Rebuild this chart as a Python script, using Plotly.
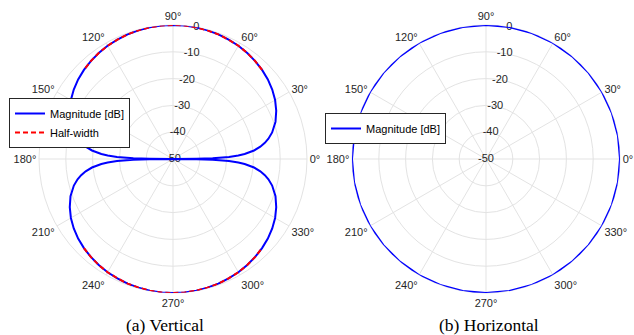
import plotly.graph_objects as go

# Angles (degrees) at which the vertical pattern is sampled
vertical_theta = [0, 0.5, 1, 2, 3, 4, 6, 8, 10, 12, 15, 20, 25, 30, 35, 40, 45, 50, 55, 60, 65, 70, 75, 80, 85, 90,
                  95, 100, 105, 110, 115, 120, 125, 130, 135, 140, 145, 150, 155, 160, 165, 168, 170, 172, 174, 176, 177, 178, 179, 179.5, 180,
                  180.5, 181, 182, 183, 184, 186, 188, 190, 192, 195, 200, 205, 210, 215, 220, 225, 230, 235, 240, 245, 250, 255, 260, 265, 270,
                  275, 280, 285, 290, 295, 300, 305, 310, 315, 320, 325, 330, 335, 340, 345, 348, 350, 352, 354, 356, 357, 358, 359, 359.5, 360]

# Magnitude [dB] of the vertical pattern
vertical_db = [-50, -41.2, -35.2, -29.1, -25.6, -23.2, -19.6, -17.1, -15.2, -13.6, -11.7, -9.3, -7.5, -6.0, -4.8, -3.8, -3.0, -2.3, -1.7, -1.2, -0.9, -0.5, -0.3, -0.1, 0.0, 0.0,
               0.0, -0.1, -0.3, -0.5, -0.9, -1.2, -1.7, -2.3, -3.0, -3.8, -4.8, -6.0, -7.5, -9.3, -11.7, -13.6, -15.2, -17.1, -19.6, -23.2, -25.6, -29.1, -35.2, -41.2, -50,
               -41.2, -35.2, -29.1, -25.6, -23.2, -19.6, -17.1, -15.2, -13.6, -11.7, -9.3, -7.5, -6.0, -4.8, -3.8, -3.0, -2.3, -1.7, -1.2, -0.9, -0.5, -0.3, -0.1, 0.0, 0.0,
               0.0, -0.1, -0.3, -0.5, -0.9, -1.2, -1.7, -2.3, -3.0, -3.8, -4.8, -6.0, -7.5, -9.3, -11.7, -13.6, -15.2, -17.1, -19.6, -23.2, -25.6, -29.1, -35.2, -41.2, -50]

half_width_threshold_db = -3.0

# Horizontal pattern: omnidirectional
horizontal_theta = [0, 10, 20, 30, 40, 50, 60, 70, 80, 90, 100, 110, 120, 130, 140, 150, 160, 170, 180,
                    190, 200, 210, 220, 230, 240, 250, 260, 270, 280, 290, 300, 310, 320, 330, 340, 350, 360]
horizontal_db = [0, 0, 0, 0, 0, 0, 0, 0, 0, 0, 0, 0, 0, 0, 0, 0, 0, 0, 0,
                 0, 0, 0, 0, 0, 0, 0, 0, 0, 0, 0, 0, 0, 0, 0, 0, 0, 0]

angle_ticks = [0, 30, 60, 90, 120, 150, 180, 210, 240, 270, 300, 330]
angle_labels = ["0°", "30°", "60°", "90°", "120°", "150°", "180°", "210°", "240°", "270°", "300°", "330°"]
radial_ticks = [-50, -40, -30, -20, -10, 0]
radial_labels = ["-50", "-40", "-30", "-20", "-10", "0"]
radial_label_angle = 80
captions = ["(a) Vertical", "(b) Horizontal"]

BLUE = "#0000ff"
RED = "#ff0000"
TXT = "#262626"
GRID = "#e3e3e3"
FONT = "Liberation Sans, Arial"

fig = go.Figure()

# radial tick labels, centred on the 80° ray (as in the original)
for sp in ["polar", "polar2"]:
    fig.add_trace(go.Scatterpolar(r=radial_ticks, theta=[radial_label_angle] * len(radial_ticks),
                                  mode="text", text=radial_labels, cliponaxis=False,
                                  textfont=dict(family=FONT, size=11, color=TXT),
                                  textposition="middle center", showlegend=False,
                                  hoverinfo="skip", subplot=sp))

fig.add_trace(go.Scatterpolar(r=vertical_db, theta=vertical_theta, mode="lines", cliponaxis=False,
                              line=dict(color=BLUE, width=2), name="Magnitude [dB]",
                              subplot="polar", legend="legend"))

# half-width segments (upper and lower lobes)
upper = [(t, r) for t, r in zip(vertical_theta, vertical_db) if r >= half_width_threshold_db and t < 180]
lower = [(t, r) for t, r in zip(vertical_theta, vertical_db) if r >= half_width_threshold_db and t > 180]
for i, seg in enumerate([upper, lower]):
    fig.add_trace(go.Scatterpolar(r=[p[1] for p in seg], theta=[p[0] for p in seg], mode="lines", cliponaxis=False,
                                  line=dict(color=RED, width=2, dash="5px,3px"), name="Half-width",
                                  showlegend=(i == 0), subplot="polar", legend="legend"))

fig.add_trace(go.Scatterpolar(r=horizontal_db, theta=horizontal_theta, mode="lines", cliponaxis=False,
                              line=dict(color=BLUE, width=2), name="Magnitude [dB]",
                              subplot="polar2", legend="legend2"))

W, H = 634, 335

def polar_layout(x0, x1):
    return dict(
        domain=dict(x=[x0 / W, x1 / W], y=[42 / H, 310 / H]),
        bgcolor="white",
        angularaxis=dict(direction="counterclockwise", rotation=0, tickmode="array",
                         tickvals=angle_ticks, ticktext=angle_labels, ticks="",
                         tickfont=dict(family=FONT, size=11, color=TXT),
                         showline=True, linecolor=GRID, linewidth=1,
                         gridcolor=GRID, gridwidth=1, layer="below traces"),
        radialaxis=dict(range=[-50, 0], tickmode="array", tickvals=radial_ticks,
                        angle=radial_label_angle, showticklabels=False, ticks="", showline=False,
                        gridcolor=GRID, gridwidth=1, layer="below traces"),
    )

legend_common = dict(bgcolor="white", bordercolor=TXT, borderwidth=1,
                     font=dict(family=FONT, size=11, color="black"),
                     xanchor="left", yanchor="top", tracegroupgap=0, itemwidth=30)

fig.update_layout(
    width=W, height=H,
    margin=dict(l=0, r=0, t=0, b=0),
    paper_bgcolor="white",
    polar=polar_layout(39, 307),
    polar2=polar_layout(352, 620),
    legend=dict(x=9 / W, y=1 - 98 / H, **legend_common),
    legend2=dict(x=325 / W, y=1 - 113 / H, **legend_common),
    annotations=[
        dict(text=captions[0], x=165 / W, y=1 - 325 / H, xref="paper", yref="paper",
             xanchor="center", yanchor="middle", showarrow=False,
             font=dict(family="Liberation Serif, Times New Roman", size=17.5, color="black")),
        dict(text=captions[1], x=489 / W, y=1 - 325 / H, xref="paper", yref="paper",
             xanchor="center", yanchor="middle", showarrow=False,
             font=dict(family="Liberation Serif, Times New Roman", size=17.5, color="black")),
    ],
)

fig.write_html("out.html")
